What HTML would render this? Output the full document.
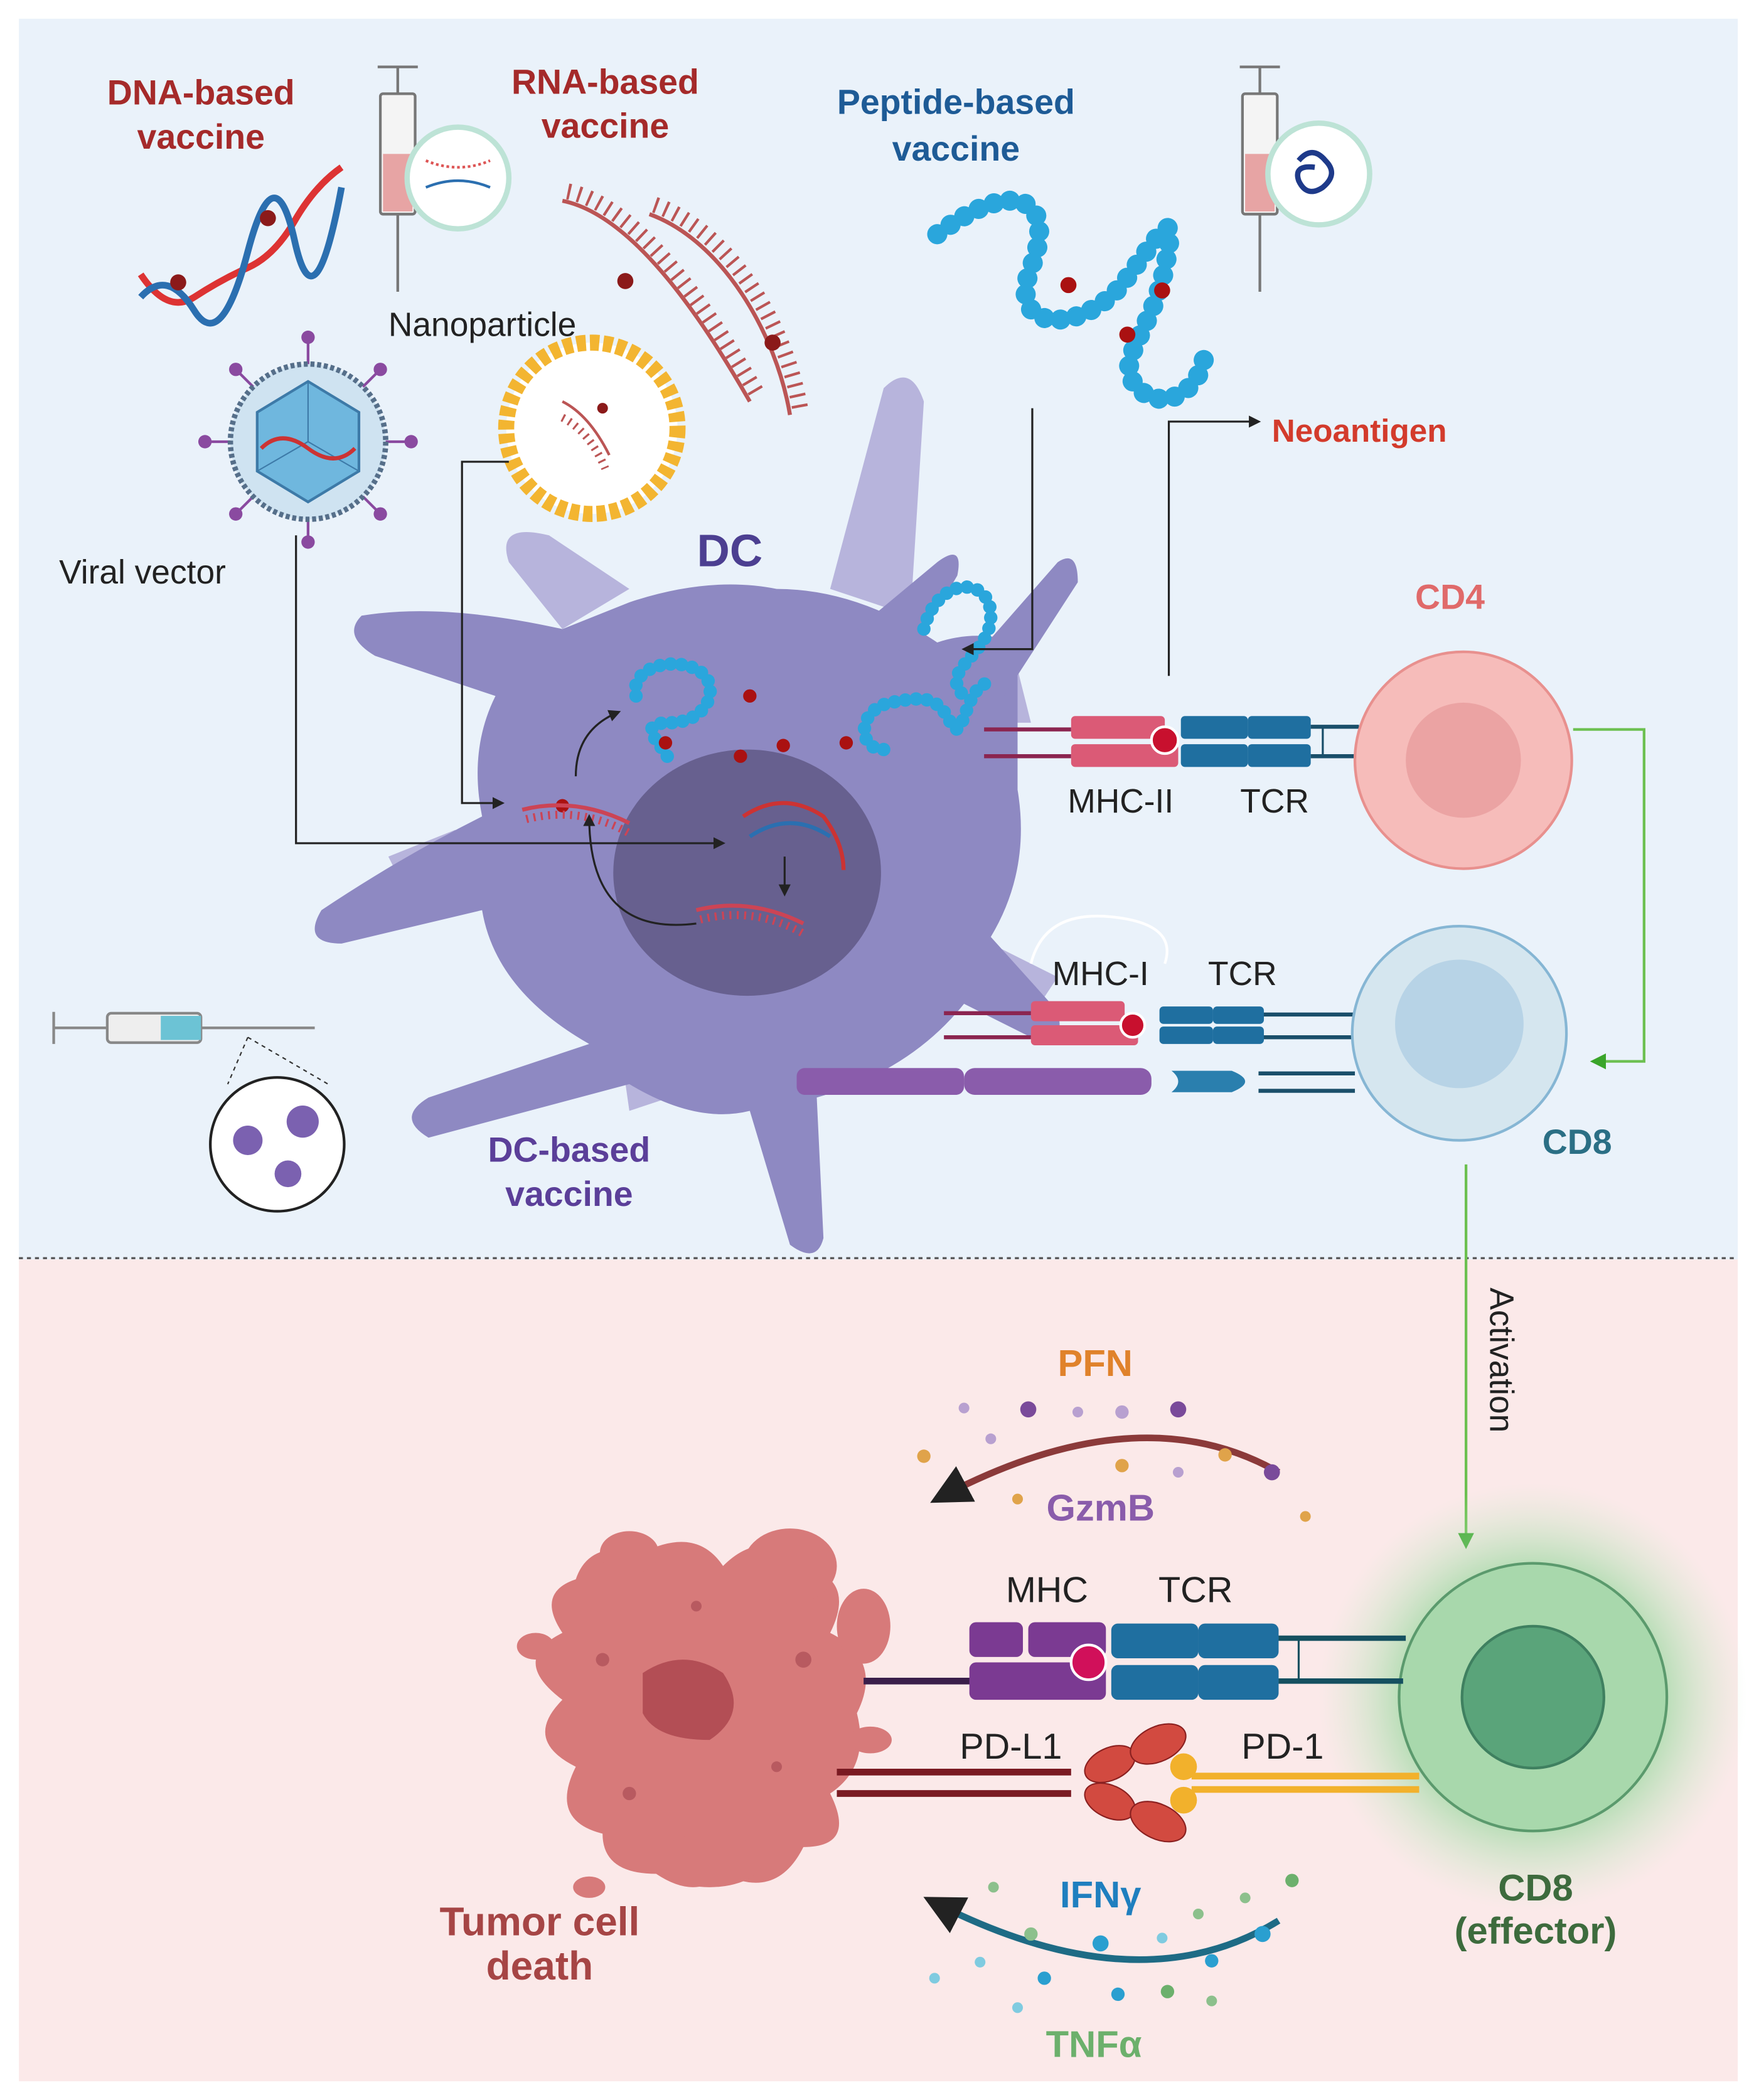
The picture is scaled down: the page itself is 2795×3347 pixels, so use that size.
<!DOCTYPE html>
<html><head><meta charset="utf-8"><style>
html,body{margin:0;padding:0;background:#fff}
svg{display:block}
text{font-family:"Liberation Sans",sans-serif}
.b{font-weight:bold}
</style></head><body>
<svg width="2795" height="3347" viewBox="0 0 1310 1569" xmlns="http://www.w3.org/2000/svg">
<defs>
<marker id="ar" viewBox="0 0 10 10" refX="8" refY="5" markerWidth="6" markerHeight="6" orient="auto"><path d="M0,0L10,5L0,10z" fill="#222"/></marker>
<marker id="ag" viewBox="0 0 10 10" refX="8" refY="5" markerWidth="6" markerHeight="6" orient="auto"><path d="M0,0L10,5L0,10z" fill="#3aa52a"/></marker>
<radialGradient id="glow"><stop offset="0.5" stop-color="#7fd08a" stop-opacity="0.8"/><stop offset="1" stop-color="#c8ecc8" stop-opacity="0"/></radialGradient>
</defs>
<rect x="0" y="0" width="1310" height="1569" fill="#fff"/>
<rect x="14" y="14" width="1284" height="927" fill="#eaf2fa"/>
<rect x="14" y="941" width="1284" height="614" fill="#fbe9e9"/>
<line x1="14" y1="940" x2="1298" y2="940" stroke="#555" stroke-width="1.5" stroke-dasharray="3,3"/>

<text x="150" y="78" text-anchor="middle" class="b" font-size="26" fill="#a52a2a">DNA-based</text>
<text x="150" y="111" text-anchor="middle" class="b" font-size="26" fill="#a52a2a">vaccine</text>
<text x="452" y="70" text-anchor="middle" class="b" font-size="26" fill="#a52a2a">RNA-based</text>
<text x="452" y="103" text-anchor="middle" class="b" font-size="26" fill="#a52a2a">vaccine</text>
<text x="714" y="85" text-anchor="middle" class="b" font-size="26" fill="#1e5b96">Peptide-based</text>
<text x="714" y="120" text-anchor="middle" class="b" font-size="26" fill="#1e5b96">vaccine</text>
<text x="290" y="251" font-size="25" fill="#222">Nanoparticle</text>
<text x="44" y="436" font-size="25" fill="#222">Viral vector</text>
<text x="950" y="330" class="b" font-size="24" fill="#d33b2c">Neoantigen</text>
<text x="545" y="423" text-anchor="middle" class="b" font-size="34" fill="#4c3f91">DC</text>
<text x="1083" y="455" text-anchor="middle" class="b" font-size="26" fill="#e06a6a">CD4</text>
<text x="1178" y="862" text-anchor="middle" class="b" font-size="26" fill="#2b6f85">CD8</text>
<text x="425" y="868" text-anchor="middle" class="b" font-size="26" fill="#5b3f99">DC-based</text>
<text x="425" y="901" text-anchor="middle" class="b" font-size="26" fill="#5b3f99">vaccine</text>

<!-- DNA helix -->
<path d="M105,205 Q125,235 145,222 T185,200 T220,165 T255,125" stroke="#d33" stroke-width="5" fill="none"/>
<path d="M105,222 Q125,200 145,232 T185,188 T220,180 T255,140" stroke="#2b6fb0" stroke-width="5" fill="none"/>
<circle cx="133" cy="211" r="6" fill="#8b1a1a"/><circle cx="200" cy="163" r="6" fill="#8b1a1a"/>
<g stroke="#777" stroke-width="2" fill="#f4f4f4">
<rect x="284" y="70" width="26" height="90" rx="2"/><line x1="297" y1="50" x2="297" y2="70"/><line x1="282" y1="50" x2="312" y2="50"/><line x1="297" y1="160" x2="297" y2="218"/>
<rect x="928" y="70" width="26" height="90" rx="2"/><line x1="941" y1="50" x2="941" y2="70"/><line x1="926" y1="50" x2="956" y2="50"/><line x1="941" y1="160" x2="941" y2="218"/>
</g>
<rect x="286" y="115" width="22" height="43" fill="#e7a4a4"/><rect x="930" y="115" width="22" height="43" fill="#e7a4a4"/>
<circle cx="342" cy="133" r="38" fill="#fff" stroke="#bde3d6" stroke-width="4"/>
<circle cx="985" cy="130" r="38" fill="#fff" stroke="#bde3d6" stroke-width="4"/>
<path d="M318,140 q24,-10 48,0" stroke="#2b6fb0" stroke-width="2" fill="none"/><path d="M318,120 q24,10 48,0" stroke="#d55" stroke-width="2" fill="none" stroke-dasharray="2,2"/>
<path d="M970,120 q10,-12 20,0 q10,10 -2,20 q-12,8 -18,-5 q-4,-12 12,-10" stroke="#1e3a8a" stroke-width="4" fill="none"/>
<!-- RNA strands with teeth -->
<path d="M420,150 C470,160 520,230 560,300" stroke="#b55" stroke-width="3" fill="none"/>
<path d="M424,143 C474,153 524,223 566,295" stroke="#b55" stroke-width="12" fill="none" stroke-dasharray="2,6"/>
<path d="M485,160 C540,180 580,250 590,310" stroke="#b55" stroke-width="3" fill="none"/>
<path d="M489,153 C546,173 588,245 598,308" stroke="#b55" stroke-width="12" fill="none" stroke-dasharray="2,6"/>
<circle cx="467" cy="210" r="6" fill="#8b1a1a"/><circle cx="577" cy="256" r="6" fill="#8b1a1a"/>
<!-- nanoparticle -->
<circle cx="442" cy="320" r="64" fill="#fff" stroke="#f3b531" stroke-width="12" stroke-dasharray="7,3"/>
<path d="M420,300 q20,10 35,40" stroke="#b55" stroke-width="2" fill="none"/><path d="M420,312 q20,10 32,38" stroke="#b55" stroke-width="6" fill="none" stroke-dasharray="1.5,4"/><circle cx="450" cy="305" r="4" fill="#8b1a1a"/>
<!-- viral vector -->
<g stroke="#8a4aa0" stroke-width="2">
<line x1="230" y1="250" x2="230" y2="405"/><line x1="153" y1="330" x2="307" y2="330"/>
<line x1="175" y1="275" x2="285" y2="385"/><line x1="285" y1="275" x2="175" y2="385"/>
</g>
<g fill="#8a4aa0"><circle cx="230" cy="252" r="5"/><circle cx="230" cy="405" r="5"/><circle cx="153" cy="330" r="5"/><circle cx="307" cy="330" r="5"/><circle cx="176" cy="276" r="5"/><circle cx="284" cy="276" r="5"/><circle cx="176" cy="384" r="5"/><circle cx="284" cy="384" r="5"/></g>
<circle cx="230" cy="330" r="58" fill="#cfe3f1" stroke="#566f8a" stroke-width="4" stroke-dasharray="3,2"/>
<polygon points="230,285 268,308 268,352 230,375 192,352 192,308" fill="#6fb7de" stroke="#3d7aa8" stroke-width="2"/>
<path d="M230,285 L230,330 L268,352 M230,330 L192,352" stroke="#3d7aa8" stroke-width="1" fill="none"/>
<path d="M195,335 q15,-15 35,0 t35,0" stroke="#c33" stroke-width="3" fill="none"/>
<!-- peptide chain -->
<path d="M700,175 C760,130 790,150 770,200 S810,250 840,210 S880,150 870,200 S830,270 850,290 S900,290 900,260" stroke="#2aa6dc" stroke-width="15" stroke-linecap="round" fill="none" stroke-dasharray="0.1,12"/>
<circle cx="798" cy="213" r="6" fill="#a11"/><circle cx="868" cy="217" r="6" fill="#a11"/><circle cx="842" cy="250" r="6" fill="#a11"/>

<!-- DC processes pale -->
<g fill="#b7b4dc">
<path d="M620,440 L660,290 Q680,270 690,300 L680,460z"/>
<path d="M380,420 Q370,390 410,400 L470,440 L420,470z"/>
<path d="M700,480 L760,500 L770,540 L700,540z"/>
<path d="M340,620 L290,640 L300,660 L360,660z"/>
<path d="M460,760 L470,830 L500,820 L490,760z"/>
<path d="M730,700 L790,730 L770,760 L720,740z"/>
</g>
<path d="M420,470 Q330,450 270,460 Q255,475 280,490 L370,520 Q350,560 360,610 Q300,640 240,680 Q225,705 255,705 L360,680 Q370,740 440,780 L320,820 Q295,835 320,850 L470,810 Q520,840 560,830 L590,930 Q610,945 615,925 L610,820 Q680,800 720,750 L780,780 Q800,770 785,750 L740,700 Q770,650 760,590 L760,480 Q730,470 700,480 Q640,440 580,440 Q530,430 470,450 Z" fill="#8e89c2"/>
<path d="M640,470 L700,420 Q720,405 715,430 L680,490z" fill="#8e89c2"/>
<path d="M720,500 L790,420 Q805,410 805,435 L750,520z" fill="#8e89c2"/>
<ellipse cx="558" cy="652" rx="100" ry="92" fill="#67608f"/>
<path d="M475,520 C470,500 500,490 520,500 S530,540 500,540 S500,560 500,570" stroke="#2aa6dc" stroke-width="10" stroke-linecap="round" fill="none" stroke-dasharray="0.1,8"/>
<path d="M660,560 C640,560 640,530 665,525 S700,520 710,540 S720,510 740,510" stroke="#2aa6dc" stroke-width="10" stroke-linecap="round" fill="none" stroke-dasharray="0.1,8"/>
<path d="M690,470 C700,430 740,430 740,460 S700,500 720,520" stroke="#2aa6dc" stroke-width="10" stroke-linecap="round" fill="none" stroke-dasharray="0.1,8"/>
<g fill="#a11"><circle cx="560" cy="520" r="5"/><circle cx="585" cy="557" r="5"/><circle cx="553" cy="565" r="5"/><circle cx="632" cy="555" r="5"/><circle cx="497" cy="555" r="5"/><circle cx="420" cy="602" r="5"/></g>
<path d="M390,605 q40,-10 80,10" stroke="#c45" stroke-width="3" fill="none"/>
<path d="M393,612 q40,-10 76,10" stroke="#c45" stroke-width="6" fill="none" stroke-dasharray="1.5,4"/>
<path d="M555,610 q30,-20 60,0 q15,20 15,40" stroke="#c33" stroke-width="3" fill="none"/>
<path d="M560,625 q30,-20 60,0" stroke="#2b6fb0" stroke-width="3" fill="none"/>
<path d="M520,680 q40,-10 80,10" stroke="#c45" stroke-width="3" fill="none"/>
<path d="M523,687 q40,-10 76,10" stroke="#c45" stroke-width="6" fill="none" stroke-dasharray="1.5,4"/>
<g stroke="#222" stroke-width="1.5" fill="none" marker-end="url(#ar)">
<path d="M430,580 Q430,545 462,532"/><path d="M520,690 Q440,700 440,610"/><path d="M586,640 L586,668"/>
<path d="M221,400 L221,630 L540,630"/><path d="M380,345 L345,345 L345,600 L375,600"/>
<path d="M771,305 L771,485 L720,485"/><path d="M873,505 L873,315 L940,315"/>
</g>

<line x1="735" y1="545" x2="800" y2="545" stroke="#8b2550" stroke-width="3"/><line x1="735" y1="565" x2="800" y2="565" stroke="#8b2550" stroke-width="3"/>
<rect x="800" y="535" width="70" height="17" rx="3" fill="#db5a76"/><rect x="800" y="556" width="80" height="17" rx="3" fill="#db5a76"/>
<circle cx="870" cy="553" r="10" fill="#c8102e" stroke="#fff" stroke-width="2"/>
<rect x="882" y="535" width="50" height="17" rx="3" fill="#1f6fa0"/><rect x="932" y="535" width="47" height="17" rx="3" fill="#1f6fa0"/>
<rect x="882" y="556" width="50" height="17" rx="3" fill="#1f6fa0"/><rect x="932" y="556" width="47" height="17" rx="3" fill="#1f6fa0"/>
<line x1="979" y1="543" x2="1015" y2="543" stroke="#1a4f6a" stroke-width="3"/><line x1="979" y1="565" x2="1015" y2="565" stroke="#1a4f6a" stroke-width="3"/><line x1="988" y1="543" x2="988" y2="565" stroke="#1a4f6a" stroke-width="1.5"/>
<text x="837" y="607" text-anchor="middle" font-size="25" fill="#222">MHC-II</text>
<text x="952" y="607" text-anchor="middle" font-size="25" fill="#222">TCR</text>
<circle cx="1093" cy="568" r="81" fill="#f6bcba" stroke="#e8908e" stroke-width="2"/>
<circle cx="1093" cy="568" r="43" fill="#eba3a3"/>
<path d="M1175,545 L1228,545 L1228,793 L1190,793" stroke="#6cc050" stroke-width="2" fill="none" marker-end="url(#ag)"/>

<path d="M770,720 Q780,680 830,685 Q880,690 870,720" stroke="#fff" stroke-width="2" fill="none"/>
<text x="822" y="736" text-anchor="middle" font-size="25" fill="#222">MHC-I</text>
<text x="928" y="736" text-anchor="middle" font-size="25" fill="#222">TCR</text>
<line x1="705" y1="757" x2="770" y2="757" stroke="#8b2550" stroke-width="3"/><line x1="705" y1="775" x2="770" y2="775" stroke="#8b2550" stroke-width="3"/>
<rect x="770" y="748" width="70" height="15" rx="3" fill="#db5a76"/><rect x="770" y="766" width="80" height="15" rx="3" fill="#db5a76"/>
<circle cx="846" cy="766" r="9" fill="#c8102e" stroke="#fff" stroke-width="2"/>
<rect x="866" y="752" width="40" height="13" rx="3" fill="#1f6fa0"/><rect x="906" y="752" width="38" height="13" rx="3" fill="#1f6fa0"/>
<rect x="866" y="767" width="40" height="13" rx="3" fill="#1f6fa0"/><rect x="906" y="767" width="38" height="13" rx="3" fill="#1f6fa0"/>
<line x1="944" y1="758" x2="1012" y2="758" stroke="#1a4f6a" stroke-width="3"/><line x1="944" y1="775" x2="1012" y2="775" stroke="#1a4f6a" stroke-width="3"/>
<rect x="595" y="798" width="125" height="20" rx="6" fill="#8a5cab"/>
<rect x="720" y="798" width="140" height="20" rx="8" fill="#8a5cab"/>
<path d="M875,800 L920,800 Q940,808 920,816 L875,816 Q885,808 875,800z" fill="#2a7fae"/>
<line x1="940" y1="802" x2="1012" y2="802" stroke="#1a4f6a" stroke-width="3"/><line x1="940" y1="815" x2="1012" y2="815" stroke="#1a4f6a" stroke-width="3"/>
<circle cx="1090" cy="772" r="80" fill="#d5e6ef" stroke="#86b6d4" stroke-width="2"/>
<circle cx="1090" cy="765" r="48" fill="#b7d3e6"/>

<g stroke="#888" stroke-width="2" fill="#eee">
<rect x="80" y="757" width="70" height="22" rx="3"/><line x1="40" y1="768" x2="80" y2="768"/><line x1="40" y1="756" x2="40" y2="780"/><line x1="150" y1="768" x2="235" y2="768"/>
</g>
<rect x="120" y="759" width="30" height="18" fill="#6cc3d5"/>
<line x1="185" y1="775" x2="170" y2="810" stroke="#333" stroke-dasharray="3,3"/><line x1="185" y1="775" x2="245" y2="810" stroke="#333" stroke-dasharray="3,3"/>
<circle cx="207" cy="855" r="50" fill="#fff" stroke="#222" stroke-width="2"/>
<g fill="#7b61b0"><circle cx="185" cy="852" r="11"/><circle cx="226" cy="838" r="12"/><circle cx="215" cy="877" r="10"/></g>

<line x1="1095" y1="870" x2="1095" y2="1155" stroke="#6cc050" stroke-width="2" marker-end="url(#ag)"/>
<text transform="translate(1113,962) rotate(90)" font-size="25" fill="#222">Activation</text>

<text x="818" y="1028" text-anchor="middle" class="b" font-size="28" fill="#e0822b">PFN</text>
<text x="822" y="1136" text-anchor="middle" class="b" font-size="28" fill="#8a5cab">GzmB</text>
<path d="M955,1100 Q850,1040 700,1120" stroke="#8b3a3a" stroke-width="5" fill="none" marker-end="url(#ar)"/>
<g fill="#b8a0d0"><circle cx="720" cy="1052" r="4"/><circle cx="768" cy="1053" r="6" fill="#7a4a9a"/><circle cx="805" cy="1055" r="4"/><circle cx="838" cy="1055" r="5"/><circle cx="880" cy="1053" r="6" fill="#7a4a9a"/><circle cx="690" cy="1088" r="5" fill="#e0a34a"/><circle cx="740" cy="1075" r="4"/><circle cx="915" cy="1087" r="5" fill="#e0a34a"/><circle cx="950" cy="1100" r="6" fill="#7a4a9a"/><circle cx="838" cy="1095" r="5" fill="#e0a34a"/><circle cx="760" cy="1120" r="4" fill="#e0a34a"/><circle cx="975" cy="1133" r="4" fill="#e0a34a"/><circle cx="880" cy="1100" r="4"/></g>

<!-- Tumor -->
<path d="M430,1180 Q440,1150 480,1160 Q520,1140 540,1170 Q570,1140 600,1170 Q640,1180 620,1220 Q660,1240 640,1280 Q650,1320 620,1340 Q640,1380 600,1380 Q580,1420 540,1400 Q520,1420 490,1400 Q450,1400 450,1370 Q410,1360 430,1320 Q390,1300 420,1270 Q380,1240 420,1220 Q400,1190 430,1180z" fill="#d77a7a"/>
<ellipse cx="590" cy="1170" rx="35" ry="28" fill="#d77a7a"/><ellipse cx="470" cy="1160" rx="22" ry="16" fill="#d77a7a"/><ellipse cx="645" cy="1215" rx="20" ry="28" fill="#d77a7a"/><ellipse cx="530" cy="1390" rx="40" ry="20" fill="#d77a7a"/><ellipse cx="400" cy="1230" rx="14" ry="10" fill="#d77a7a"/><ellipse cx="650" cy="1300" rx="16" ry="10" fill="#d77a7a"/><ellipse cx="440" cy="1410" rx="12" ry="8" fill="#d77a7a"/>
<path d="M480,1250 Q510,1230 540,1250 Q560,1280 530,1300 Q490,1300 480,1280z" fill="#b34e55"/>
<g fill="#b85a60"><circle cx="450" cy="1240" r="5"/><circle cx="600" cy="1240" r="6"/><circle cx="470" cy="1340" r="5"/><circle cx="580" cy="1320" r="4"/><circle cx="520" cy="1200" r="4"/></g>
<text x="403" y="1446" text-anchor="middle" class="b" font-size="30" fill="#a64545">Tumor cell</text>
<text x="403" y="1479" text-anchor="middle" class="b" font-size="30" fill="#a64545">death</text>

<circle cx="1145" cy="1268" r="160" fill="url(#glow)"/>
<circle cx="1145" cy="1268" r="100" fill="#a8d8ac" stroke="#5b9a6d" stroke-width="2"/>
<circle cx="1145" cy="1268" r="53" fill="#5aa47a" stroke="#3f8060" stroke-width="2"/>
<text x="1147" y="1420" text-anchor="middle" class="b" font-size="28" fill="#3d6b3d">CD8</text>
<text x="1147" y="1452" text-anchor="middle" class="b" font-size="28" fill="#3d6b3d">(effector)</text>

<text x="782" y="1197" text-anchor="middle" font-size="27" fill="#222">MHC</text>
<text x="893" y="1197" text-anchor="middle" font-size="27" fill="#222">TCR</text>
<line x1="645" y1="1256" x2="725" y2="1256" stroke="#3a1e4a" stroke-width="5"/>
<rect x="724" y="1212" width="40" height="26" rx="5" fill="#7b3a92"/><rect x="768" y="1212" width="58" height="26" rx="5" fill="#7b3a92"/>
<rect x="724" y="1242" width="102" height="28" rx="5" fill="#7b3a92"/>
<circle cx="813" cy="1242" r="13" fill="#d1105a" stroke="#fff" stroke-width="2"/>
<rect x="830" y="1213" width="65" height="26" rx="5" fill="#1f6fa0"/><rect x="895" y="1213" width="60" height="26" rx="5" fill="#1f6fa0"/>
<rect x="830" y="1244" width="65" height="26" rx="5" fill="#1f6fa0"/><rect x="895" y="1244" width="60" height="26" rx="5" fill="#1f6fa0"/>
<line x1="955" y1="1224" x2="1050" y2="1224" stroke="#155060" stroke-width="4"/><line x1="955" y1="1256" x2="1048" y2="1256" stroke="#155060" stroke-width="4"/><line x1="970" y1="1224" x2="970" y2="1256" stroke="#155060" stroke-width="1.5"/>
<text x="755" y="1314" text-anchor="middle" font-size="27" fill="#222">PD-L1</text>
<text x="958" y="1314" text-anchor="middle" font-size="27" fill="#222">PD-1</text>
<line x1="625" y1="1324" x2="800" y2="1324" stroke="#7a1a22" stroke-width="5"/><line x1="625" y1="1340" x2="800" y2="1340" stroke="#7a1a22" stroke-width="5"/>
<g fill="#d24a40" stroke="#8a2020" stroke-width="1">
<ellipse cx="829" cy="1318" rx="20" ry="12" transform="rotate(-25 829 1318)"/><ellipse cx="865" cy="1303" rx="22" ry="13" transform="rotate(-25 865 1303)"/>
<ellipse cx="829" cy="1346" rx="20" ry="12" transform="rotate(25 829 1346)"/><ellipse cx="865" cy="1361" rx="22" ry="13" transform="rotate(25 865 1361)"/>
</g>
<g fill="#f2b12c"><circle cx="884" cy="1320" r="10"/><circle cx="884" cy="1345" r="10"/></g>
<line x1="890" y1="1327" x2="1060" y2="1327" stroke="#f2b12c" stroke-width="5"/><line x1="890" y1="1337" x2="1060" y2="1337" stroke="#f2b12c" stroke-width="5"/>

<text x="822" y="1425" text-anchor="middle" class="b" font-size="28" fill="#1f7fbf">IFNγ</text>
<text x="817" y="1537" text-anchor="middle" class="b" font-size="28" fill="#6cb06c">TNFα</text>
<path d="M955,1435 Q850,1500 695,1420" stroke="#1e6b85" stroke-width="5" fill="none" marker-end="url(#ar)"/>
<g fill="#2a9fd0"><circle cx="742" cy="1410" r="4" fill="#8cc08c"/><circle cx="965" cy="1405" r="5" fill="#6cb06c"/><circle cx="930" cy="1418" r="4" fill="#8cc08c"/><circle cx="895" cy="1430" r="4" fill="#8cc08c"/><circle cx="822" cy="1452" r="6"/><circle cx="770" cy="1445" r="5" fill="#8cc08c"/><circle cx="943" cy="1445" r="6"/><circle cx="905" cy="1465" r="5"/><circle cx="868" cy="1448" r="4" fill="#7fcbe0"/><circle cx="732" cy="1466" r="4" fill="#7fcbe0"/><circle cx="698" cy="1478" r="4" fill="#7fcbe0"/><circle cx="780" cy="1478" r="5"/><circle cx="835" cy="1490" r="5"/><circle cx="872" cy="1488" r="5" fill="#6cb06c"/><circle cx="760" cy="1500" r="4" fill="#7fcbe0"/><circle cx="905" cy="1495" r="4" fill="#8cc08c"/></g>
</svg>
</body></html>
